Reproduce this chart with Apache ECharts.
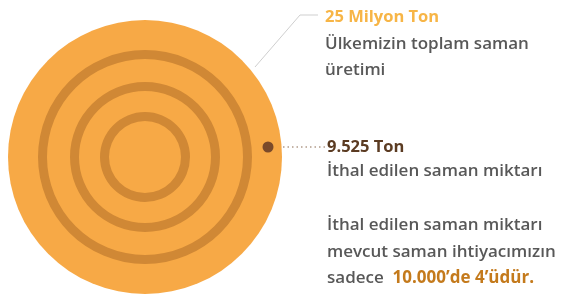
<!DOCTYPE html>
<html>
<head>
<meta charset="utf-8">
<script src="https://cdn.jsdelivr.net/npm/echarts@6/dist/echarts.min.js"></script>
<style>html,body{margin:0;padding:0;background:#fff}#c{width:563px;height:295px}</style>
</head>
<body>
<div id="c"></div>
<script>
// Data
var totalLabel = '25 Milyon Ton';
var totalDesc = ['Ülkemizin toplam saman', 'üretimi'];
var totalValue = 25000000;
var importLabel = '9.525 Ton';
var importDesc = 'İthal edilen saman miktarı';
var importValue = 9525;
var noteLines = ['İthal edilen saman miktarı', 'mevcut saman ihtiyacımızın'];
var notePrefix = 'sadece ';
var noteHighlight = '10.000’de 4’üdür.';

var chart = echarts.init(document.getElementById('c'), null, {renderer: 'canvas'});
var C = [145, 157];
var font = '"Open Sans", "DejaVu Sans", sans-serif';
function ring(r0, r1) {
  return {
    type: 'pie', center: C, radius: [r0, r1], silent: true, animation: false,
    label: {show: false}, labelLine: {show: false},
    itemStyle: {color: '#d08835'},
    data: [{value: totalValue, name: 'ring'}]
  };
}
function txt(x, y, text, opts) {
  return {
    type: 'text', x: x, y: y,
    style: Object.assign({text: text, fontFamily: font, fontSize: 17, fontWeight: 600, fill: '#585858',
      textVerticalAlign: 'middle', verticalAlign: 'middle'}, opts || {})
  };
}
var option = {
  backgroundColor: '#ffffff',
  series: [
    {
      type: 'pie', center: C, radius: [0, 137], silent: true, animation: false,
      label: {show: false}, labelLine: {show: false},
      itemStyle: {color: '#f7a946'},
      data: [{value: totalValue, name: totalLabel}]
    },
    ring(98, 107),
    ring(66, 75),
    ring(36, 45),
    {
      type: 'pie', center: [268, 147], radius: [0, 5.5], silent: true, animation: false,
      label: {show: false}, labelLine: {show: false},
      itemStyle: {color: '#7a4a2a'},
      data: [{value: importValue, name: importLabel}]
    }
  ],
  graphic: [
    {type: 'polyline', shape: {points: [[255, 67], [300, 15], [318, 15]]}, style: {stroke: '#cfcfcf', lineWidth: 1, fill: null}},
    {type: 'line', shape: {x1: 274, y1: 147, x2: 325, y2: 147}, style: {stroke: '#8a6a50', lineWidth: 1.2, lineDash: [1.5, 3]}},
    txt(325, 17, totalLabel, {fontWeight: 'bold', fill: '#f7b546', fontSize: 16.5}),
    txt(325, 44, totalDesc[0]),
    txt(325, 70, totalDesc[1]),
    txt(327, 147, importLabel, {fontWeight: 'bold', fill: '#5b3b22', fontSize: 16.5}),
    txt(327, 171, importDesc),
    txt(327, 225, noteLines[0]),
    txt(327, 252, noteLines[1]),
    {
      type: 'text', x: 327, y: 278,
      style: {
        text: '{a|' + notePrefix + '} {b|' + noteHighlight + '}',
        fontFamily: font, fontSize: 17, textVerticalAlign: 'middle', verticalAlign: 'middle',
        rich: {
          a: {fontFamily: font, fontSize: 17, fontWeight: 600, fill: '#585858', color: '#585858'},
          b: {fontFamily: font, fontSize: 17, fontWeight: 'bold', fill: '#c47a1c', color: '#c47a1c'}
        }
      }
    }
  ]
};
chart.setOption(option);
</script>
</body>
</html>
